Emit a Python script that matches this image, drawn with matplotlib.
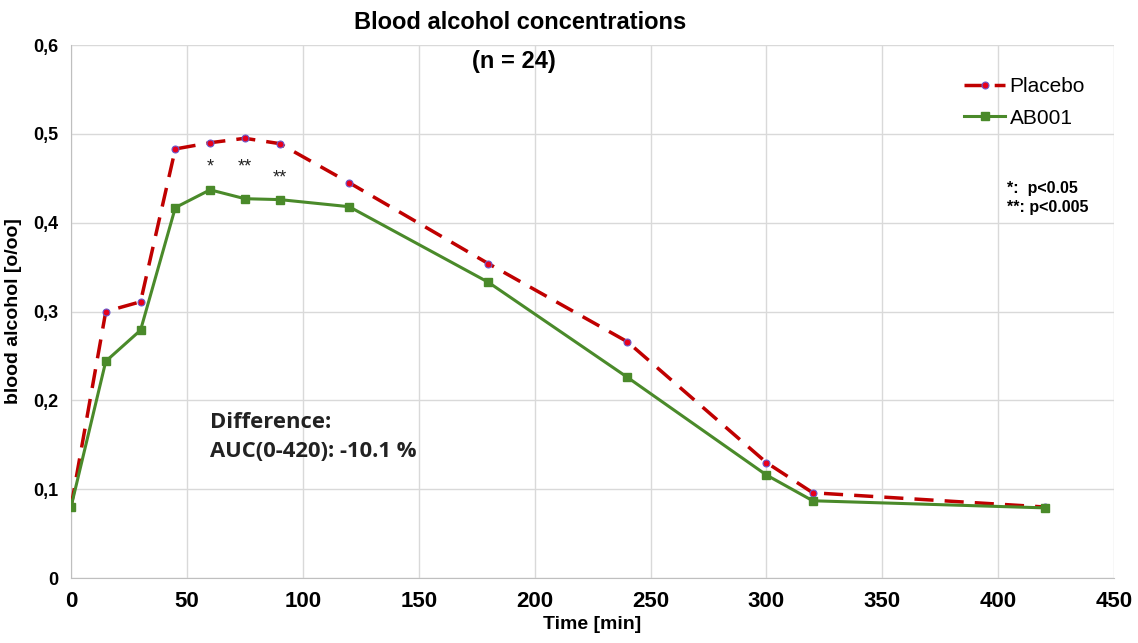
import matplotlib
matplotlib.use("Agg")
import matplotlib.pyplot as plt
from matplotlib.ticker import FuncFormatter

plt.rcParams['font.family'] = ['Liberation Sans', 'DejaVu Sans']

time_min = [0, 15, 30, 45, 60, 75, 90, 120, 180, 240, 300, 320, 420]
placebo = [0.080, 0.300, 0.311, 0.483, 0.490, 0.495, 0.489, 0.445, 0.354, 0.266, 0.130, 0.096, 0.080]
ab001 = [0.080, 0.244, 0.279, 0.417, 0.437, 0.427, 0.426, 0.418, 0.333, 0.226, 0.116, 0.087, 0.079]

star_times = [60, 75, 90]
star_y = [0.463, 0.463, 0.450]
star_labels = ["*", "**", "**"]

fig = plt.figure(figsize=(11.38, 6.43), dpi=100)
ax = fig.add_axes([0.0624, 0.101, 0.9166, 0.829])

ax.plot(time_min, placebo, color="#c00000", linestyle=(0, (5.5, 3.2)), linewidth=2.5,
        marker="o", markersize=5, markerfacecolor="#e8001c", markeredgecolor="#6a5acd",
        markeredgewidth=0.8, label="Placebo", zorder=3)
ax.plot(time_min, ab001, color="#4a8a2a", linewidth=2.2, marker="s", markersize=6,
        markerfacecolor="#4a8a2a", markeredgecolor="#4a8a2a", label="AB001", zorder=4)

for t, y, s in zip(star_times, star_y, star_labels):
    ax.text(t, y, s, ha="center", va="center", fontsize=13, color="#222222")

ax.set_xlim(0, 450)
ax.set_ylim(0, 0.6)
ax.set_xticks(range(0, 451, 50))
ax.set_yticks([0, 0.1, 0.2, 0.3, 0.4, 0.5, 0.6])
ax.yaxis.set_major_formatter(FuncFormatter(lambda v, p: "0" if v == 0 else f"{v:.1f}".replace(".", ",")))
ax.grid(True, color="#d9d9d9", linewidth=1)
ax.set_axisbelow(True)
for side in ["top", "right"]:
    ax.spines[side].set_visible(False)
for side in ["left", "bottom"]:
    ax.spines[side].set_color("#bfbfbf")
ax.tick_params(length=0, pad=9)
for lbl in ax.get_xticklabels():
    lbl.set_fontsize(16)
    lbl.set_fontweight("bold")
for lbl in ax.get_yticklabels():
    lbl.set_fontsize(13)
    lbl.set_fontweight("bold")

ax.set_xlabel("Time [min]", fontsize=14, fontweight="bold", labelpad=3)
ax.set_ylabel("blood alcohol [o/oo]", fontsize=14, fontweight="bold", labelpad=8)

fig.text(0.457, 0.965, "Blood alcohol concentrations", ha="center", va="center",
         fontsize=17, fontweight="bold")
ax.text(191, 0.581, "(n = 24)", ha="center", va="center", fontsize=17, fontweight="bold")

ax.text(60, 0.159, "Difference:\nAUC(0-420): -10.1 %", ha="left", va="center",
        fontsize=15.8, linespacing=1.5, color="#222222",
        family=["Open Sans", "DejaVu Sans"], fontweight="bold")
ax.text(404, 0.428, "*:  p<0.05\n**: p<0.005", ha="left", va="center",
        fontsize=11.5, fontweight="bold", linespacing=1.3)

ax.legend(loc="upper right", bbox_to_anchor=(0.99, 0.975), frameon=False, fontsize=15,
          handlelength=2.0, handletextpad=0.2, labelspacing=0.6)

fig.savefig("out.png", dpi=100)
